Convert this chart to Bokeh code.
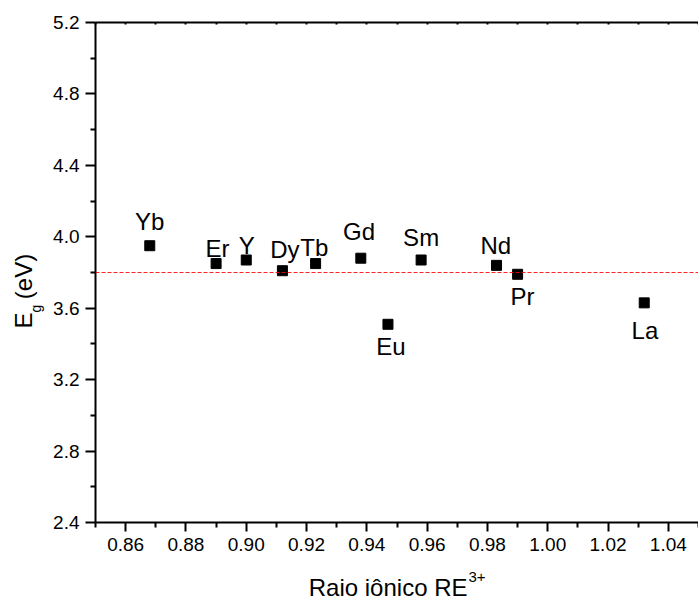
import math

from bokeh.embed import file_html
from bokeh.models import (CustomJSTickFormatter, FixedTicker, Label, LinearAxis,
                          NumeralTickFormatter, Range1d, Span)
from bokeh.plotting import figure
from bokeh.resources import INLINE

# Band gap of the RE-doped samples against the RE3+ ionic radius
elements = ["Yb", "Er", "Y", "Dy", "Tb", "Gd", "Eu", "Sm", "Nd", "Pr", "La"]
ionic_radius = [0.868, 0.890, 0.900, 0.912, 0.923, 0.938, 0.947, 0.958, 0.983, 0.990, 1.032]
band_gap = [3.95, 3.85, 3.87, 3.81, 3.85, 3.88, 3.51, 3.87, 3.84, 3.79, 3.63]
mean_gap = 3.80

x_major_ticks = [0.86, 0.88, 0.90, 0.92, 0.94, 0.96, 0.98, 1.00, 1.02, 1.04]
x_minor_ticks = [0.85, 0.87, 0.89, 0.91, 0.93, 0.95, 0.97, 0.99, 1.01, 1.03, 1.05]
y_major_ticks = [2.4, 2.8, 3.2, 3.6, 4.0, 4.4, 4.8, 5.2]
y_minor_ticks = [2.6, 3.0, 3.4, 3.8, 4.2, 4.6, 5.0]

# pixel placement of each element name around its marker (dx, baseline dy; +up)
label_place = {
    "Yb": (0, 15), "Er": (1.5, 6), "Y": (0.5, 6), "Dy": (2.5, 12.5),
    "Tb": (-1.3, 7.5), "Gd": (-1.7, 18), "Eu": (3, -31), "Sm": (0, 14),
    "Nd": (-0.7, 11), "Pr": (5, -31), "La": (0.7, -36.5),
}
BASE_FIX = 9  # lift from the renderer's alphabetic baseline

FONT = "Liberation Sans"
W, H = 698, 600
X0, X1 = 0.85, 1.05
Y0, Y1 = 2.4, 5.2

p = figure(
    width=W, height=H,
    x_range=Range1d(X0, X1), y_range=Range1d(Y0, Y1),
    x_axis_type=None, y_axis_type=None,
    output_backend="svg", toolbar_location=None,
    min_border_left=95, min_border_right=0,
    min_border_top=22, min_border_bottom=78,
)
p.outline_line_color = None
p.background_fill_color = "white"
p.border_fill_color = "white"


def style_axis(ax):
    ax.axis_line_width = 2
    ax.axis_line_color = "black"
    ax.major_tick_line_width = 2
    ax.minor_tick_line_width = 2
    ax.major_tick_line_color = "black"
    ax.minor_tick_line_color = "black"
    ax.major_label_text_font = FONT
    ax.major_label_text_font_size = "19px"
    ax.major_label_text_color = "black"


xt = FixedTicker(ticks=x_major_ticks, minor_ticks=x_minor_ticks)
yt = FixedTicker(ticks=y_major_ticks, minor_ticks=y_minor_ticks)

xaxis = LinearAxis(ticker=xt, formatter=NumeralTickFormatter(format="0.00"))
style_axis(xaxis)
xaxis.major_tick_in = 0
xaxis.major_tick_out = 9
xaxis.minor_tick_in = 0
xaxis.minor_tick_out = 5
xaxis.major_label_standoff = 6
p.add_layout(xaxis, "below")

yaxis = LinearAxis(ticker=yt, formatter=NumeralTickFormatter(format="0.0"))
style_axis(yaxis)
yaxis.major_tick_in = 0
yaxis.major_tick_out = 10
yaxis.minor_tick_in = 0
yaxis.minor_tick_out = 5
yaxis.major_label_standoff = 6
p.add_layout(yaxis, "left")

# frame top edge: line with short inward ticks, no labels
top = LinearAxis(ticker=FixedTicker(ticks=x_major_ticks, minor_ticks=x_minor_ticks),
                 formatter=CustomJSTickFormatter(code="return ''"))
style_axis(top)
top.major_tick_in = 2
top.major_tick_out = 0
top.minor_tick_in = 2
top.minor_tick_out = 0
top.major_label_standoff = 0
p.add_layout(top, "above")

# average band gap reference line
p.add_layout(Span(location=mean_gap, dimension="width", line_color="red",
                  line_width=1, line_dash="4 2", line_alpha=0.85))

p.scatter(ionic_radius, band_gap, marker="square", size=10,
          fill_color="black", line_color="black")

for name, rx, eg in zip(elements, ionic_radius, band_gap):
    dx, dy = label_place[name]
    p.add_layout(Label(x=rx, y=eg, x_offset=dx, y_offset=dy + BASE_FIX, text=name,
                       text_align="center", text_baseline="alphabetic",
                       text_font=FONT, text_font_size="24px", text_color="black"))


def canvas_label(px, py, text, size, align="left", angle=0.0):
    """Text placed in canvas pixels (px from left, py from top)."""
    return Label(x=px, y=py, x_units="canvas", y_units="canvas", text=text,
                 angle=angle, text_align=align, text_baseline="alphabetic",
                 text_font=FONT, text_font_size=size, text_color="black")


# x axis title with superscript (side panel, so it is not clipped to the frame)
p.add_layout(canvas_label(467, 596 - BASE_FIX, "Raio iônico RE", "24px", align="right"), "below")
p.add_layout(canvas_label(468, 585 - BASE_FIX, "3+", "15px"), "below")

# y axis title with subscript, reading upward; the gap in the main text holds the "g"
up = math.pi / 2
p.add_layout(canvas_label(32 - BASE_FIX, 328, "E\u00a0\u00a0(eV)", "24px", angle=up), "left")
p.add_layout(canvas_label(44 - BASE_FIX, 312, "g", "14px", angle=up), "left")

open("out.html", "w").write(file_html(p, INLINE))
